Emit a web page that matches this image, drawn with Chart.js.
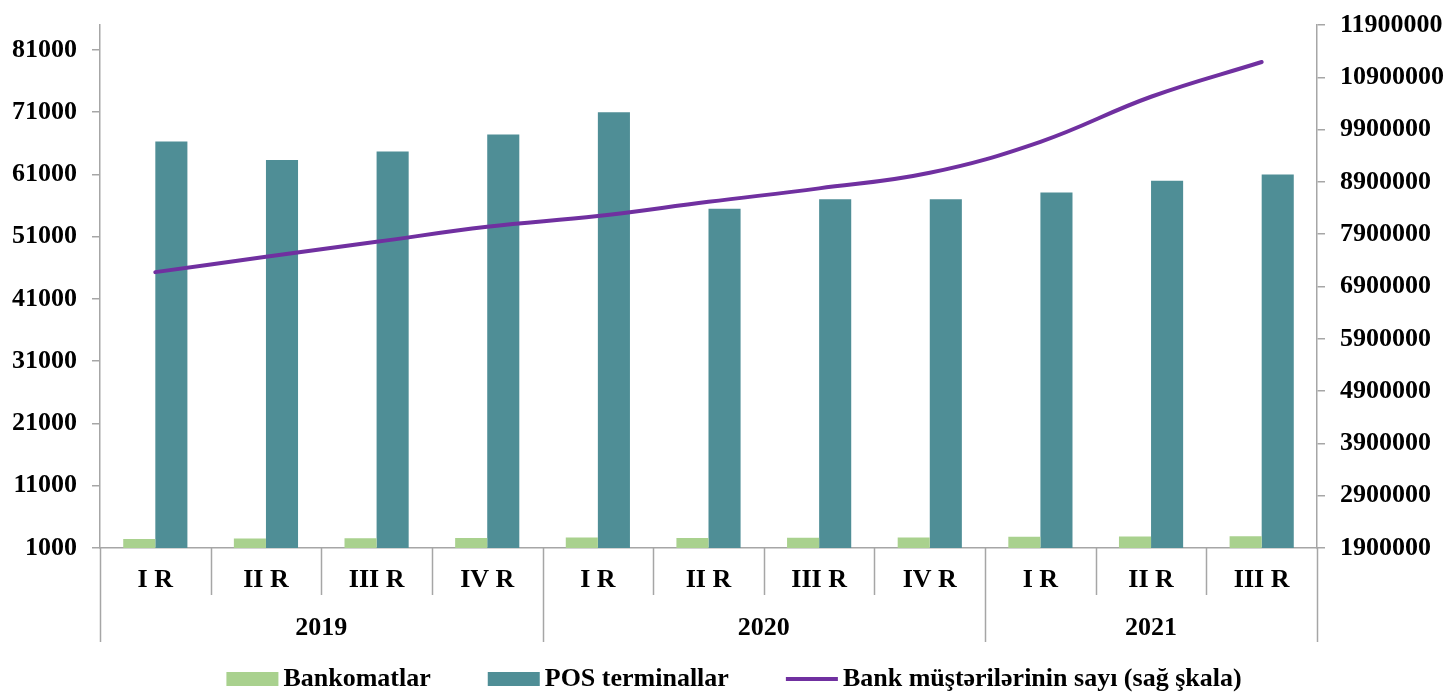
<!DOCTYPE html>
<html><head><meta charset="utf-8">
<script src="https://cdn.jsdelivr.net/npm/chart.js@4.4.1/dist/chart.umd.min.js"></script>
<style>html,body{margin:0;padding:0;background:#fff}#wrap{width:1451px;height:695px}</style>
</head><body><div id="wrap"><canvas id="c" width="1451" height="695"></canvas></div>
<script>
const quarters = ['I R','II R','III R','IV R','I R','II R','III R','IV R','I R','II R','III R'];
const years = ['2019','2020','2021'];
const yearSpans = [4,4,3];
const atms = [2450,2530,2550,2600,2700,2600,2650,2700,2800,2850,2900];
const posTerminals = [66300,63300,64700,67400,71000,55500,57000,57000,58100,60000,61000];
const bankClients = [7175000,7467000,7754000,8041000,8246000,8520000,8776000,9074000,9667000,10528000,11192000];
const leftTicks = [1000,11000,21000,31000,41000,51000,61000,71000,81000];
const rightTicks = [1900000,2900000,3900000,4900000,5900000,6900000,7900000,8900000,9900000,10900000,11900000];
const seriesNames = ['Bankomatlar','POS terminallar','Bank müştərilərinin sayı (sağ şkala)'];

const FAMILY = "'Liberation Serif','Times New Roman',serif";
const FSIZE = 26;
const FONT = {family: FAMILY, size: FSIZE, weight: 'bold'};
const AXIS = '#a6a6a6';

const extras = {
  id: 'extras',
  afterDraw(chart) {
    const ctx = chart.ctx, xs = chart.scales.x, area = chart.chartArea;
    const n = quarters.length;
    const bound = i => i === 0 ? area.left : (i === n ? area.right : (xs.getPixelForValue(i - 1) + xs.getPixelForValue(i)) / 2);
    const yearBounds = [0];
    yearSpans.forEach(s => yearBounds.push(yearBounds[yearBounds.length - 1] + s));
    ctx.save();
    ctx.strokeStyle = AXIS; ctx.lineWidth = 1.5;
    for (let i = 0; i <= n; i++) {
      const len = yearBounds.includes(i) ? 94 : 47;
      const px = Math.round(bound(i)) + 0.5;
      ctx.beginPath(); ctx.moveTo(px, area.bottom); ctx.lineTo(px, area.bottom + len); ctx.stroke();
    }
    ctx.fillStyle = '#000';
    ctx.font = 'bold ' + FSIZE + 'px ' + FAMILY;
    ctx.textAlign = 'center'; ctx.textBaseline = 'middle';
    years.forEach((y, k) => {
      const cx = (bound(yearBounds[k]) + bound(yearBounds[k + 1])) / 2;
      ctx.fillText(y, cx, area.bottom + 80);
    });
    // legend
    const ds = chart.data.datasets;
    const boxW = 52, gapText = 5, gapItem = 57, ly = 679;
    const widths = ds.map(d => boxW + gapText + ctx.measureText(d.label).width);
    const total = widths.reduce((a, b) => a + b, 0) + gapItem * (ds.length - 1);
    let lx = 734 - total / 2;
    ctx.textAlign = 'left';
    ds.forEach((d, k) => {
      if (d.type === 'line') {
        ctx.strokeStyle = d.borderColor; ctx.lineWidth = 4; ctx.lineCap = 'butt';
        ctx.beginPath(); ctx.moveTo(lx, ly); ctx.lineTo(lx + boxW, ly); ctx.stroke();
      } else {
        ctx.fillStyle = d.backgroundColor;
        ctx.fillRect(lx, ly - 7, boxW, 14);
      }
      ctx.fillStyle = '#000';
      ctx.fillText(d.label, lx + boxW + gapText, ly);
      lx += widths[k] + gapItem;
    });
    ctx.restore();
  }
};

new Chart(document.getElementById('c'), {
  type: 'bar',
  data: {
    labels: quarters,
    datasets: [
      {label: seriesNames[0], data: atms, backgroundColor: '#A9D18E', yAxisID: 'y', order: 1,
       categoryPercentage: 0.58, barPercentage: 1.0},
      {label: seriesNames[1], data: posTerminals, backgroundColor: '#4F8E96', yAxisID: 'y', order: 1,
       categoryPercentage: 0.58, barPercentage: 1.0},
      {label: seriesNames[2], type: 'line', data: bankClients, borderColor: '#7030A0', backgroundColor: '#7030A0',
       borderWidth: 4, pointRadius: 0, tension: 0.4, yAxisID: 'y1', order: 0, borderCapStyle: 'round'}
    ]
  },
  options: {
    responsive: false, devicePixelRatio: 1, animation: false,
    layout: {padding: {top: 25, left: 0, right: 0, bottom: 0}},
    plugins: {legend: {display: false}, tooltip: {enabled: false}},
    scales: {
      x: {
        grid: {display: true, drawOnChartArea: false, drawTicks: false, offset: true},
        border: {display: true, color: AXIS, width: 1.5},
        ticks: {font: FONT, color: '#000', padding: 17, maxRotation: 0, autoSkip: false},
        afterFit: s => { s.height = 147; }
      },
      y: {
        position: 'left', min: 1000, max: 85000,
        grid: {drawOnChartArea: false, tickLength: 8, color: AXIS, lineWidth: 1.5},
        border: {display: true, color: AXIS, width: 1.5},
        ticks: {font: FONT, color: '#000', padding: 15, callback: v => String(v)},
        afterBuildTicks: s => { s.ticks = leftTicks.map(v => ({value: v})); },
        afterFit: s => { s.width = 100; s.paddingTop = 0; s.paddingBottom = 0; }
      },
      y1: {
        position: 'right', min: 1900000, max: 11900000,
        grid: {drawOnChartArea: false, tickLength: 8, color: AXIS, lineWidth: 1.5},
        border: {display: true, color: AXIS, width: 1.5},
        ticks: {font: FONT, color: '#000', padding: 15, callback: v => String(v)},
        afterBuildTicks: s => { s.ticks = rightTicks.map(v => ({value: v})); },
        afterFit: s => { s.width = 134; s.paddingTop = 0; s.paddingBottom = 0; }
      }
    }
  },
  plugins: [extras]
});
</script></body></html>
